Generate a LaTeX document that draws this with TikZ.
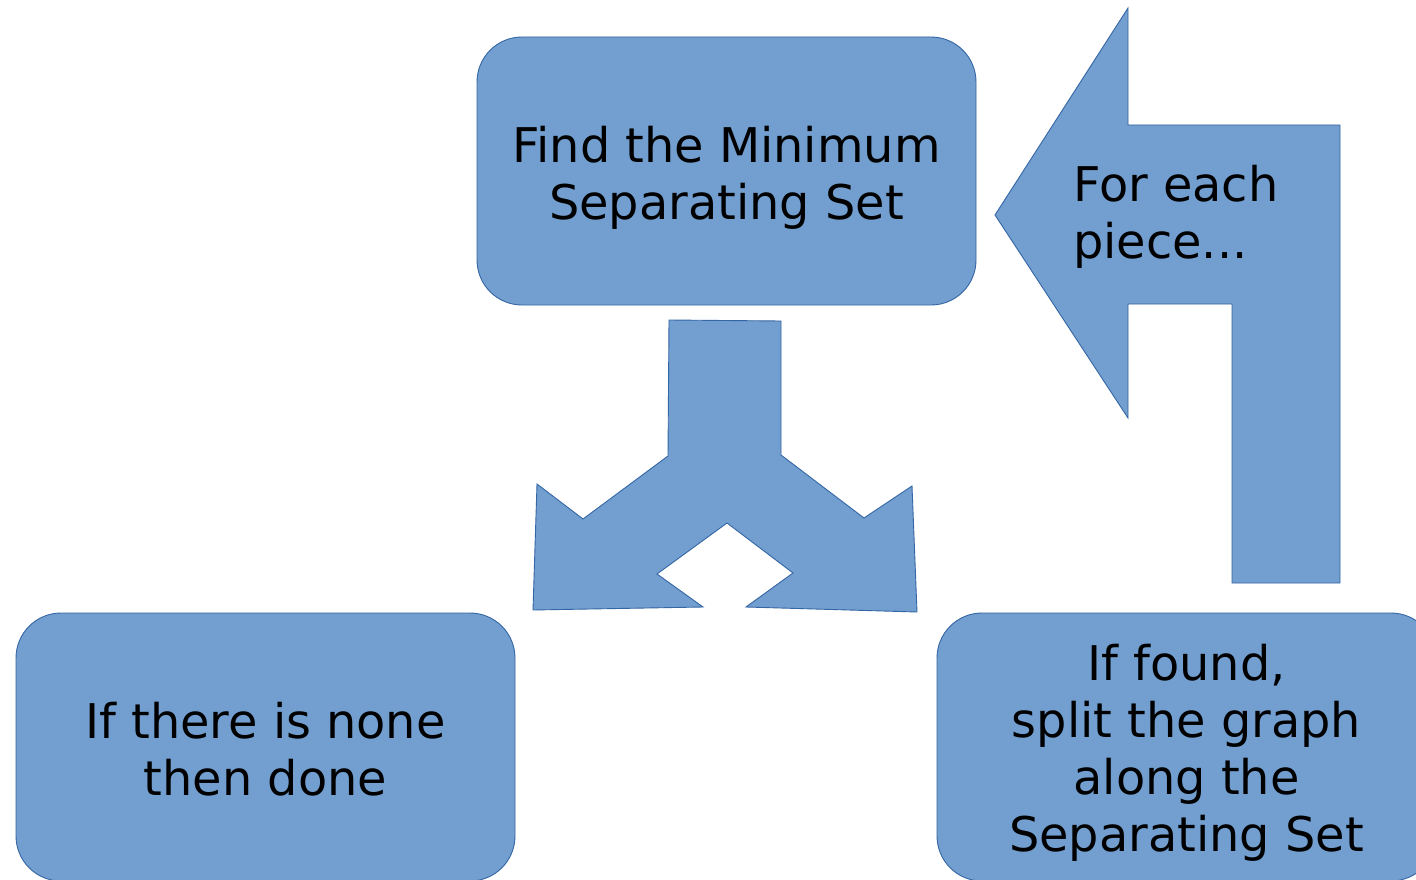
\documentclass[tikz,border=0pt]{standalone}
\usepackage{fontspec}
\setmainfont{DejaVu Sans}
\definecolor{boxfill}{HTML}{729FCF}
\definecolor{boxline}{HTML}{3465A4}
\begin{document}
\begin{tikzpicture}[x=1pt,y=-1pt,
  stepbox/.style={draw=boxline, fill=boxfill, line width=0.9pt,
    rounded corners=45pt, minimum width=499pt, minimum height=268pt, inner sep=0pt},
  blockarrow/.style={draw=boxline, fill=boxfill, line width=0.9pt, line join=miter},
  caption/.style={font=\fontsize{47.8}{57}\selectfont, text=black, align=center, inner sep=0pt}]
\useasboundingbox (0,0) rectangle (1416,880);
\clip (0,0) rectangle (1416,880);

% the three process boxes
\node[stepbox] (find) at (726.5,171) {};
\node[stepbox] (none) at (265.5,747) {};
\node[stepbox] (split) at (1186.5,747) {};

% their texts
\node[caption] (findtxt) at (726.5,177.5) {Find the Minimum\\Separating Set};
\node[caption] (nonetxt) at (265.5,749.5) {If there is none\\then done};
\node[caption] (splittxt) at (1186.5,752.5) {If found,\\split the graph\\along the\\Separating Set};

% forked arrow below the first box
\path[blockarrow] (669,320) -- (781,321) -- (781,455) -- (864,518) -- (912,486)
  -- (917,612) -- (746,607) -- (793,573) -- (727,523) -- (657,574) -- (703,607)
  -- (533,610) -- (537,484) -- (583,519) -- (668,456) -- cycle;

% return arrow on the right
\path[blockarrow] (995,215) -- (1128,8) -- (1128,125) -- (1340,125) -- (1340,583)
  -- (1232,583) -- (1232,304) -- (1128,304) -- (1128,418) -- cycle;
\node[caption, align=left, anchor=west] (looptxt) at (1073,217) {For each\\piece...};
\end{tikzpicture}
\end{document}
